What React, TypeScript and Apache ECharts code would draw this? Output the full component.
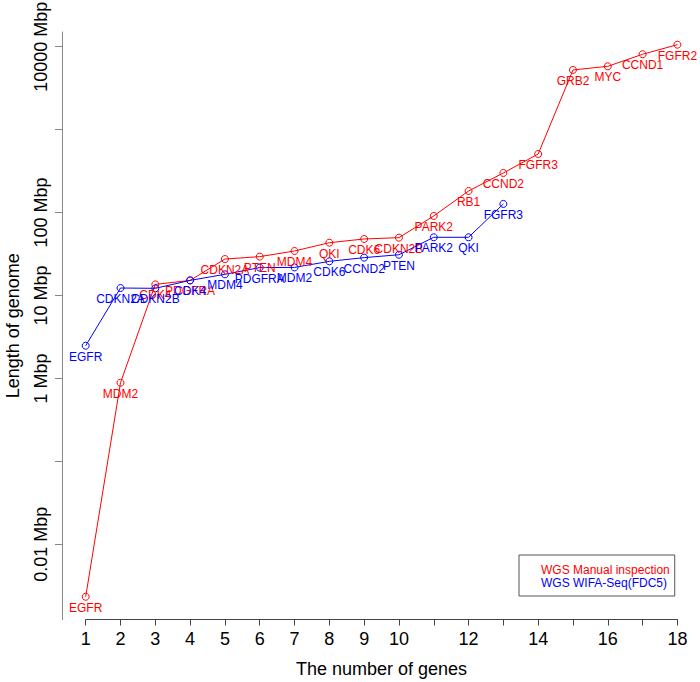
import React, { useEffect, useRef } from "react";
import * as echarts from "echarts";

// Gene order and genome length (Mbp) for each method
const manualGenes = [
  "EGFR", "MDM2", "CDK4", "PDGFRA", "CDKN2A", "PTEN", "MDM4", "QKI", "CDK6",
  "CDKN2B", "PARK2", "RB1", "CCND2", "FGFR3", "GRB2", "MYC", "CCND1", "FGFR2",
];
const manualMbp = [
  0.00233, 0.887, 13.6, 15.2, 27.5, 29.4, 34.4, 43.3, 48.0,
  49.8, 91, 182, 300, 508, 5240, 5800, 8100, 10570,
];
const wifaGenes = [
  "EGFR", "CDKN2A", "CDKN2B", "CDK4", "MDM4", "PDGFRA", "MDM2", "CDK6",
  "CCND2", "PTEN", "PARK2", "QKI", "FGFR3",
];
const wifaMbp = [
  2.48, 12.3, 12.2, 15.2, 18.0, 21.7, 21.8, 25.8, 28.6, 31.0, 50.3, 50.3, 127,
];
const seriesNames = ["WGS Manual inspection", "WGS WIFA-Seq(FDC5)"];
const xTickValues = [1, 2, 3, 4, 5, 6, 7, 8, 9, 10, 11, 12, 13, 14, 15, 16, 17, 18];
const xLabelValues = [1, 2, 3, 4, 5, 6, 7, 8, 9, 10, 12, 14, 16, 18];
const yTickMbp = [0.01, 0.1, 1, 10, 100, 1000, 10000];
const yLabelMbp = [0.01, 1, 10, 100, 10000];
const yLabelText = ["0.01 Mbp", "1 Mbp", "10 Mbp", "100 Mbp", "10000 Mbp"];

const FONT = "'Liberation Sans', Arial, Helvetica, sans-serif";

export default function App() {
  const ref = useRef<HTMLDivElement>(null);
  useEffect(() => {
    if (!ref.current) return;
    const chart = echarts.init(ref.current, undefined, { renderer: "svg" });
    const lg = (v: number) => Math.log10(v);
    const mk = (genes: string[], vals: number[]) =>
      vals.map((v, i) => ({ name: genes[i], value: [i + 1, lg(v)] }));
    const mkSeries = (name: string, color: string, data: any[]) => ({
      name,
      type: "line",
      data,
      clip: false,
      symbol: "circle",
      symbolSize: 7,
      itemStyle: { color: "rgba(255,255,255,0)", borderColor: color, borderWidth: 1 },
      lineStyle: { color, width: 1 },
      label: {
        show: true,
        position: "bottom",
        distance: 1,
        formatter: "{b}",
        color,
        fontSize: 12,
        fontFamily: FONT,
      },
      emphasis: { disabled: true },
    });
    chart.setOption({
      animation: false,
      backgroundColor: "#fff",
      textStyle: { fontFamily: FONT },
      grid: {
        left: 85.7,
        right: 22.6,
        top: 32,
        bottom: 62.5,
        containLabel: false,
        outerBoundsMode: "none",
      },
      xAxis: {
        type: "value",
        min: 1,
        max: 18,
        interval: 1,
        name: "The number of genes",
        nameLocation: "middle",
        nameGap: 40,
        nameTextStyle: { fontSize: 18, color: "#000", fontFamily: FONT },
        axisLine: { show: true, onZero: false, lineStyle: { color: "#444", width: 1 } },
        axisTick: { show: true, length: 6, inside: false, customValues: xTickValues, lineStyle: { color: "#444" } },
        axisLabel: {
          fontSize: 18,
          color: "#000",
          margin: 10,
          fontFamily: FONT,
          customValues: xLabelValues,
        },
        splitLine: { show: false },
      },
      yAxis: {
        type: "value",
        min: -2.907,
        max: 4.177,
        offset: 23.7,
        name: "Length of genome",
        nameLocation: "middle",
        nameRotate: 90,
        nameGap: 40,
        nameTextStyle: { fontSize: 18, color: "#000", fontFamily: FONT },
        axisLine: { show: true, onZero: false, lineStyle: { color: "#888", width: 1 } },
        axisTick: { show: true, length: 7, customValues: yTickMbp.map(lg), lineStyle: { color: "#888" } },
        axisLabel: {
          rotate: 90,
          fontSize: 18,
          color: "#000",
          margin: 12,
          fontFamily: FONT,
          customValues: yLabelMbp.map(lg),
          formatter: (v: number) => {
            const i = yLabelMbp.findIndex((m) => Math.abs(lg(m) - v) < 1e-6);
            return i >= 0 ? yLabelText[i] : "";
          },
        },
        splitLine: { show: false },
      },
      legend: {
        orient: "vertical",
        left: 519,
        top: 555,
        padding: [8, 5, 7, 3],
        itemWidth: 14,
        itemHeight: 14,
        itemGap: 0,
        borderColor: "#555",
        borderWidth: 1,
        selectedMode: false,
        textStyle: { fontSize: 12, fontFamily: FONT },
        data: [
          { name: seriesNames[0], icon: "none", textStyle: { color: "red" } },
          { name: seriesNames[1], icon: "none", textStyle: { color: "blue" } },
        ],
      },
      series: [
        mkSeries(seriesNames[0], "red", mk(manualGenes, manualMbp)),
        mkSeries(seriesNames[1], "blue", mk(wifaGenes, wifaMbp)),
      ],
    });
    return () => chart.dispose();
  }, []);
  return (
    <div
      ref={ref}
      style={{ position: "absolute", left: 0, top: 0, width: 700, height: 682 }}
    />
  );
}
